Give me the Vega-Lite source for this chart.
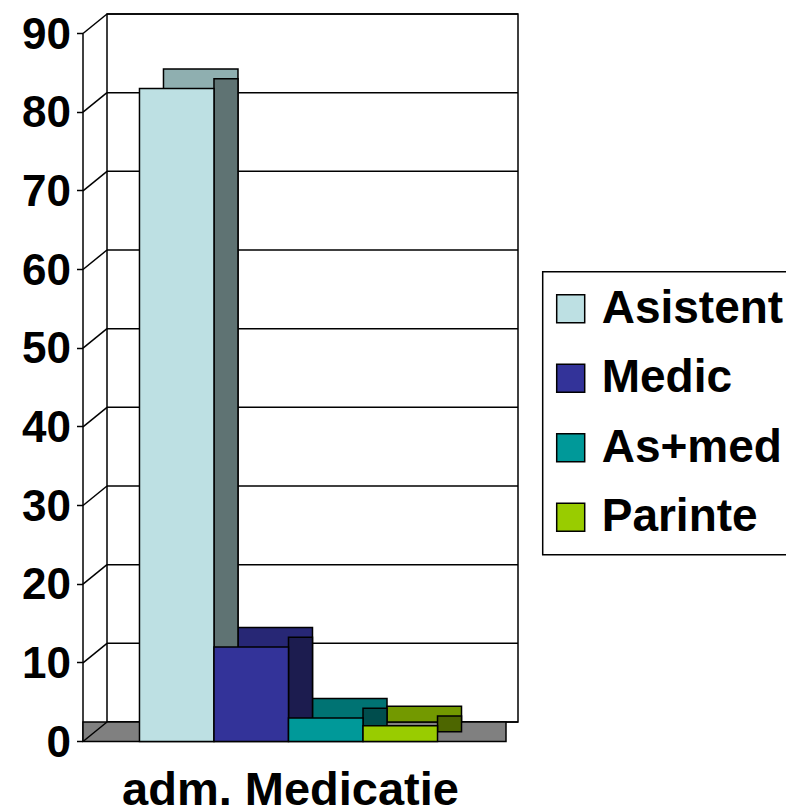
{
  "$schema": "https://vega.github.io/schema/vega-lite/v6.json",
  "autosize": "none",
  "width": 411,
  "height": 708,
  "padding": {"left": 107, "top": 14, "right": 268, "bottom": 86},
  "background": "white",
  "config": {
    "view": {"stroke": "black", "strokeWidth": 1.5},
    "font": "Liberation Sans",
    "legend": {"strokeWidth": 1.5},
    "axisY": {
      "title": null,
      "tickCount": 10,
      "offset": 43.5,
      "translate": 19.5,
      "grid": false,
      "domainColor": "black", "domainWidth": 1.5,
      "tickColor": "black", "tickWidth": 1.5, "tickSize": 6,
      "labelFont": "Liberation Sans", "labelFontSize": 44, "labelFontWeight": "bold",
      "labelColor": "black", "labelPadding": 6, "labelOffset": 2, "labelOverlap": false
    }
  },
  "datasets": {
    "bars": [
      {"group": "adm. Medicatie", "series": "Asistent", "value": 83},
      {"group": "adm. Medicatie", "series": "Medic", "value": 12},
      {"group": "adm. Medicatie", "series": "As+med", "value": 3},
      {"group": "adm. Medicatie", "series": "Parinte", "value": 2}
    ],
    "grid": [
      {"g": 0}, {"g": 10}, {"g": 20}, {"g": 30}, {"g": 40},
      {"g": 50}, {"g": 60}, {"g": 70}, {"g": 80}, {"g": 90}
    ]
  },
  "layer": [
    {
      "data": {"name": "grid"},
      "mark": {"type": "rule", "color": "black", "strokeWidth": 1.5},
      "encoding": {
        "y": {"field": "g", "type": "quantitative", "scale": {"domain": [0, 90], "nice": false}, "title": null}
      }
    },
    {
      "data": {"values": [{"f": 0}]},
      "mark": {"type": "rect", "fill": "#808080", "stroke": "black", "strokeWidth": 1.5, "xOffset": -24, "x2Offset": -12, "y2Offset": 19.5},
      "encoding": {
        "x": {"datum": 0, "type": "quantitative", "scale": {"domain": [0, 1]}, "axis": null},
        "x2": {"datum": 1},
        "y": {"datum": 0, "type": "quantitative", "scale": {"domain": [0, 90], "nice": false}, "title": null},
        "y2": {"datum": 0}
      }
    },
    {
      "data": {"name": "grid"},
      "mark": {"type": "rule", "color": "black", "strokeWidth": 1.5, "xOffset": -24, "yOffset": 19.5},
      "encoding": {
        "x": {"datum": 0, "type": "quantitative", "scale": {"domain": [0, 1]}, "axis": null},
        "x2": {"datum": 0},
        "y": {"field": "g", "type": "quantitative", "scale": {"domain": [0, 90], "nice": false}, "title": null},
        "y2": {"field": "g"}
      }
    },
    {
      "data": {"name": "bars"},
      "mark": {"type": "bar", "stroke": "black", "strokeWidth": 1.5},
      "encoding": {
        "x": {"field": "series", "type": "nominal", "sort": null, "scale": {"domain": ["Asistent", "Medic", "As+med", "Parinte"], "paddingInner": 0, "paddingOuter": 0.758}, "axis": null},
        "y": {"field": "value", "type": "quantitative", "scale": {"domain": [0, 90], "nice": false}, "title": null},
        "color": {"field": "series", "type": "nominal", "scale": {"domain": ["Asistent", "Medic", "As+med", "Parinte"], "range": ["#8FAFB0", "#272775", "#007373", "#739900"]}, "legend": null}
      }
    },
    {
      "data": {"name": "bars"},
      "mark": {"type": "bar", "stroke": "black", "strokeWidth": 1.5, "width": 24, "xOffset": 25.25, "yOffset": 9.75},
      "encoding": {
        "x": {"field": "series", "type": "nominal", "sort": null, "scale": {"domain": ["Asistent", "Medic", "As+med", "Parinte"], "paddingInner": 0, "paddingOuter": 0.758}, "axis": null},
        "y": {"field": "value", "type": "quantitative", "scale": {"domain": [0, 90], "nice": false}, "title": null},
        "color": {"field": "series", "type": "nominal", "scale": {"domain": ["Asistent", "Medic", "As+med", "Parinte"], "range": ["#5F7373", "#1C1C4F", "#004D4D", "#4D6600"]}, "legend": null}
      }
    },
    {
      "data": {"name": "bars"},
      "mark": {"type": "bar", "stroke": "black", "strokeWidth": 1.5, "xOffset": -24, "yOffset": 19.5, "y2Offset": 19.5},
      "encoding": {
        "x": {
          "field": "series", "type": "nominal", "sort": null,
          "scale": {"domain": ["Asistent", "Medic", "As+med", "Parinte"], "paddingInner": 0, "paddingOuter": 0.758},
          "axis": {
            "title": "adm. Medicatie", "labels": false, "ticks": false, "domain": false,
            "titleFont": "Liberation Sans", "titleFontSize": 47, "titleFontWeight": "bold", "titleColor": "black",
            "titleX": 183, "titleY": 82, "titleBaseline": "alphabetic", "titleAlign": "center"
          }
        },
        "y": {"field": "value", "type": "quantitative", "scale": {"domain": [0, 90], "nice": false}, "title": null},
        "color": {
          "field": "series", "type": "nominal",
          "scale": {"domain": ["Asistent", "Medic", "As+med", "Parinte"], "range": ["#BDE0E3", "#333399", "#009999", "#99CC00"]},
          "legend": {
            "title": null, "orient": "none", "legendX": 435.7, "legendY": 257.7, "direction": "vertical",
            "symbolType": "square", "symbolSize": 784, "symbolStrokeColor": "black", "symbolStrokeWidth": 1.5,
            "symbolOffset": -9,
            "labelFont": "Liberation Sans", "labelFontSize": 46, "labelFontWeight": "bold", "labelColor": "black",
            "labelOffset": 8, "rowPadding": 23.5, "padding": 14, "strokeColor": "black", "fillColor": "white", "labelLimit": 0
          }
        }
      }
    }
  ],
  "resolve": {"scale": {"x": "independent", "color": "independent"}}
}
